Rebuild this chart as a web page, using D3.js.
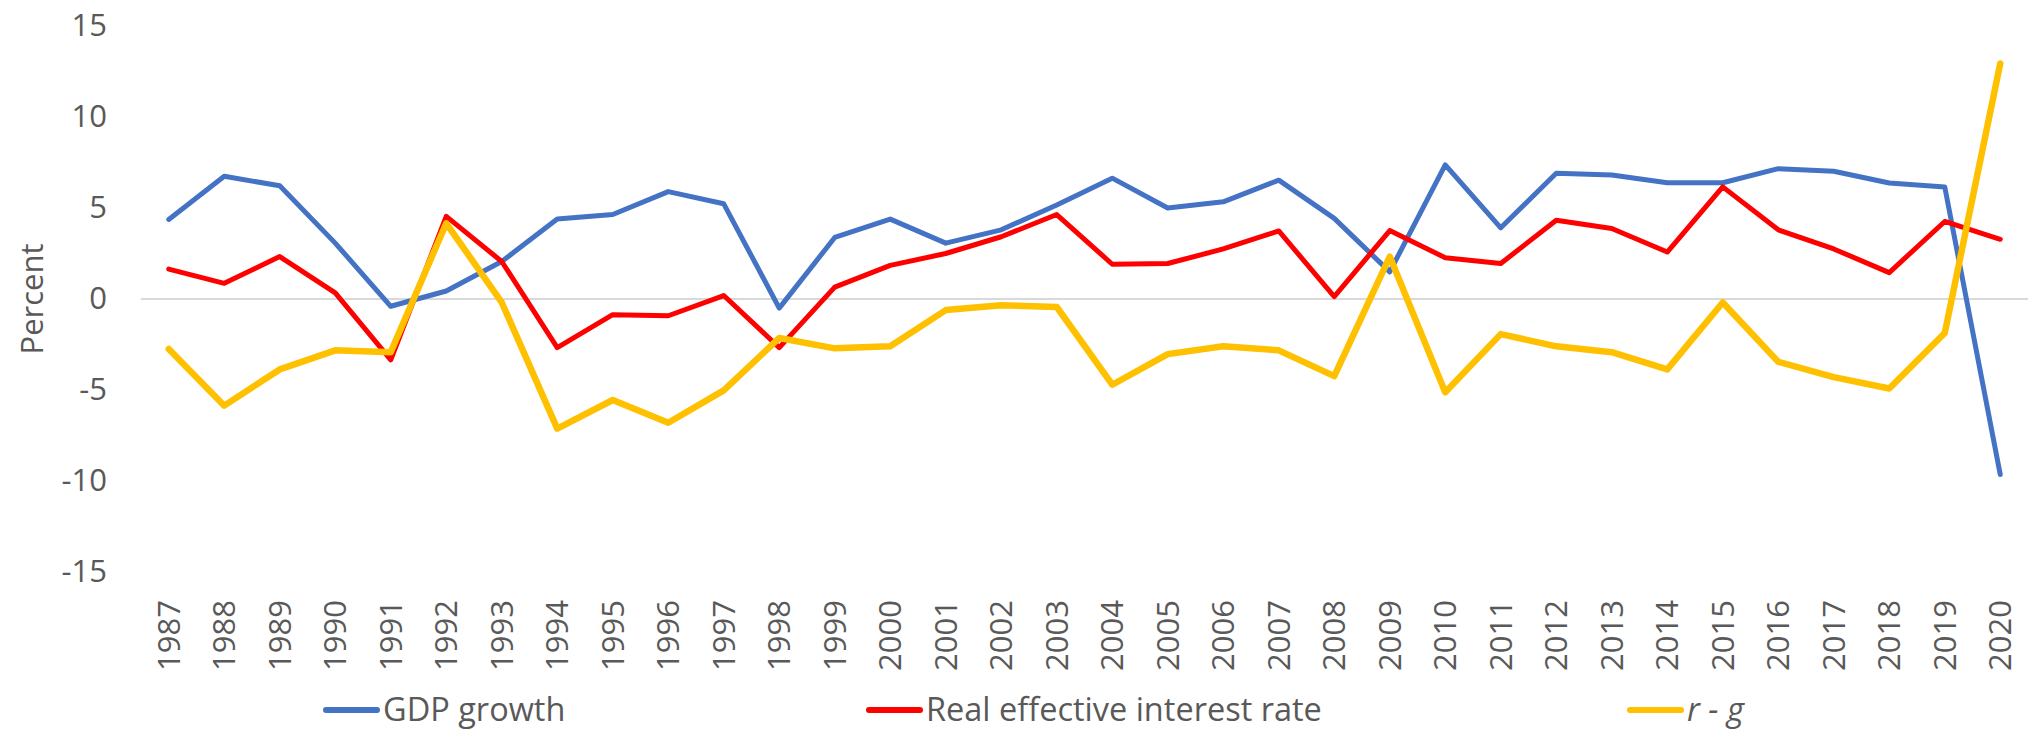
<!DOCTYPE html>
<html>
<head>
<meta charset="utf-8">
<script src="https://cdn.jsdelivr.net/npm/d3@7"></script>
<style>
  body { margin: 0; background: #fff; }
  text { font-family: "Open Sans", "Liberation Sans", sans-serif; fill: #595959; }
</style>
</head>
<body>
<script>
var years = [1987,1988,1989,1990,1991,1992,1993,1994,1995,1996,1997,1998,1999,2000,2001,2002,2003,
             2004,2005,2006,2007,2008,2009,2010,2011,2012,2013,2014,2015,2016,2017,2018,2019,2020];

var gdpGrowth = [4.37,6.74,6.22,3.07,-0.4,0.44,2.06,4.39,4.64,5.9,5.23,-0.5,3.38,4.39,3.07,3.8,5.17,
                 6.64,5.0,5.34,6.53,4.43,1.49,7.37,3.91,6.91,6.81,6.39,6.39,7.16,7.02,6.37,6.16,-9.64];

var realRate = [1.64,0.86,2.33,0.34,-3.34,4.54,2.06,-2.67,-0.86,-0.92,0.19,-2.67,0.65,1.85,2.5,3.42,4.64,
                1.91,1.95,2.75,3.74,0.13,3.76,2.27,1.95,4.33,3.87,2.58,6.16,3.8,2.75,1.45,4.26,3.28];

var rMinusG = [-2.75,-5.86,-3.87,-2.82,-2.92,4.16,-0.19,-7.12,-5.55,-6.8,-5.02,-2.14,-2.71,-2.6,-0.61,-0.34,-0.44,
               -4.71,-3.03,-2.6,-2.82,-4.24,2.33,-5.13,-1.93,-2.6,-2.92,-3.87,-0.19,-3.45,-4.29,-4.92,-1.87,12.94];

var yTicks = [-15,-10,-5,0,5,10,15];

var seriesNames = ["GDP growth", "Real effective interest rate", "r - g"];
var seriesColors = ["#4472C4", "#FF0000", "#FFC000"];

var width = 2033, height = 733;

var svg = d3.select("body")
    .append("svg")
    .attr("width", width)
    .attr("height", height);

var xScale = d3.scaleBand()
    .domain(years)
    .range([141, 2028])
    .padding(0);

var yScale = d3.scaleLinear()
    .domain([-15, 15])
    .range([572, 26]);

function xc(d) { return xScale(d) + xScale.bandwidth() / 2; }

// zero line
svg.append("line")
    .attr("x1", 141)
    .attr("x2", 2028)
    .attr("y1", yScale(0))
    .attr("y2", yScale(0))
    .attr("stroke", "#D9D9D9")
    .attr("stroke-width", 2);

// y axis, plain hyphen for negatives like the original
var yAxis = d3.axisLeft(yScale)
    .tickValues(yTicks)
    .tickFormat(function(d) { return String(d); })
    .tickSize(0)
    .tickPadding(34);
var gy = svg.append("g")
    .attr("transform", "translate(141,0)")
    .call(yAxis);
gy.select(".domain").remove();
gy.selectAll("text")
    .style("font-size", "31px")
    .style("fill", "#595959")
    .style("font-family", "'Open Sans', sans-serif");

// x axis labels (rotated)
var xAxis = d3.axisBottom(xScale).tickSize(0).tickPadding(0);
var gx = svg.append("g")
    .attr("transform", "translate(0,600)")
    .call(xAxis);
gx.select(".domain").remove();
gx.selectAll("text")
    .attr("transform", "rotate(-90)")
    .attr("x", 0)
    .attr("y", 0)
    .attr("dy", "0.35em")
    .style("text-anchor", "end")
    .style("font-size", "31px")
    .style("fill", "#595959")
    .style("font-family", "'Open Sans', sans-serif");

// y title
svg.append("text")
    .attr("transform", "translate(32," + yScale(0) + ") rotate(-90)")
    .attr("text-anchor", "middle")
    .attr("dy", "0.35em")
    .style("font-size", "31px")
    .text("Percent");

// lines
var allSeries = [gdpGrowth, realRate, rMinusG];
var widths = [5, 5, 6.5];

var line = d3.line()
    .x(function(d, i) { return xc(years[i]); })
    .y(function(d) { return yScale(d); });

svg.selectAll("path.series")
    .data(allSeries)
    .join("path")
    .attr("class", "series")
    .attr("d", line)
    .attr("fill", "none")
    .attr("stroke", function(d, i) { return seriesColors[i]; })
    .attr("stroke-width", function(d, i) { return widths[i]; })
    .attr("stroke-linejoin", "round")
    .attr("stroke-linecap", "round");

// legend
var legendX = [326, 869, 1630];
var legY = 710;
var lg = svg.append("g");
lg.selectAll("line")
    .data(seriesNames)
    .join("line")
    .attr("x1", function(d, i) { return legendX[i]; })
    .attr("x2", function(d, i) { return legendX[i] + 51; })
    .attr("y1", legY)
    .attr("y2", legY)
    .attr("stroke", function(d, i) { return seriesColors[i]; })
    .attr("stroke-width", 6)
    .attr("stroke-linecap", "round");

lg.selectAll("text")
    .data(seriesNames)
    .join("text")
    .attr("x", function(d, i) { return legendX[i] + 57; })
    .attr("y", legY)
    .attr("dy", "0.35em")
    .style("font-size", "32.5px")
    .style("font-style", function(d, i) { return i == 2 ? "italic" : "normal"; })
    .text(function(d) { return d; });
</script>
</body>
</html>
